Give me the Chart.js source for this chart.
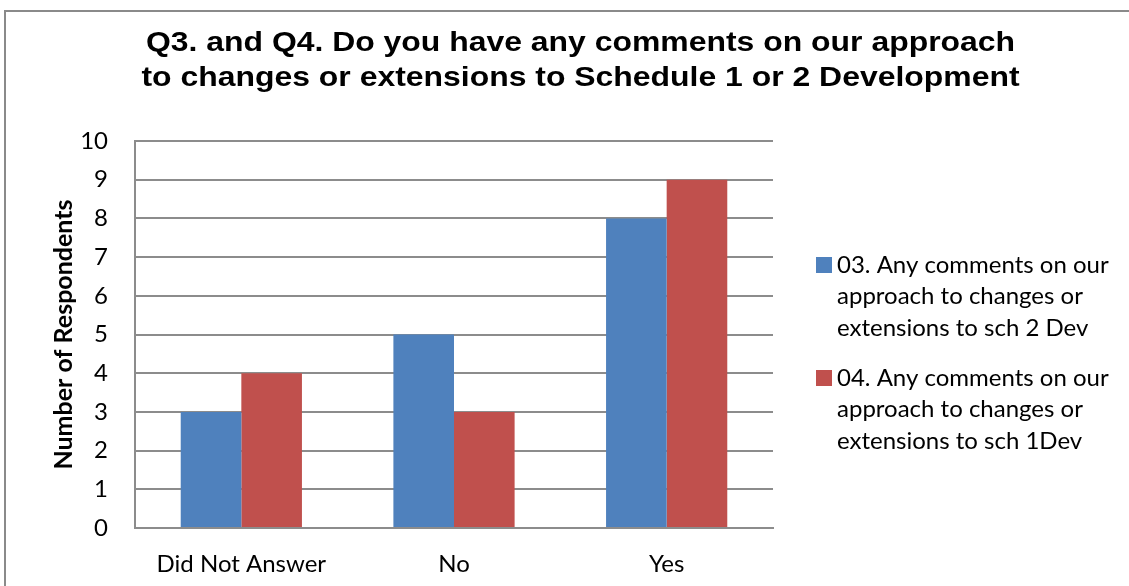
<!DOCTYPE html>
<html>
<head>
<meta charset="utf-8">
<title>Q3 and Q4 comments</title>
<script src="https://cdn.jsdelivr.net/npm/chart.js@4/dist/chart.umd.min.js"></script>
<style>
  html, body { margin: 0; padding: 0; background: #fff; overflow: hidden; }
  #wrap { position: relative; width: 1129px; height: 586px; }
  #frame {
    position: absolute; left: 4px; top: 10px; width: 1200px; height: 700px;
    border: 2px solid #8a8a8a; box-sizing: border-box;
  }
  canvas { position: absolute; left: 0; top: 0; }
</style>
</head>
<body>
<div id="wrap">
  <div id="frame"></div>
  <canvas id="chart" width="1129" height="586"></canvas>
</div>
<script>
const categories = ['Did Not Answer', 'No', 'Yes'];
const q3Values = [3, 5, 8];
const q4Values = [4, 3, 9];
const q3Lines = ['03. Any comments on our', 'approach to changes or', 'extensions to sch 2 Dev'];
const q4Lines = ['04. Any comments on our', 'approach to changes or', 'extensions to sch 1Dev'];
const yTicks = [0, 1, 2, 3, 4, 5, 6, 7, 8, 9, 10];
const titleLines = [
  'Q3. and Q4. Do you have any comments on our approach',
  'to changes or extensions to Schedule 1 or 2 Development'
];

const bodyFont = 'Lato';
const gridColor = '#8c8c8c';

// legend on the right, added as its own layout box so the title stays centred
const sideLegend = {
  id: 'sideLegend',
  beforeInit(chart) {
    const box = {
      position: 'right',
      weight: 0,
      fullSize: false,
      options: {},
      left: 0, top: 0, right: 0, bottom: 0, width: 0, height: 0,
      isHorizontal() { return false; },
      update(maxWidth, maxHeight) {
        this.width = 356;
        this.height = maxHeight;
      },
      draw() {
        const ctx = chart.ctx;
        ctx.save();
        ctx.font = '24px ' + bodyFont;
        ctx.textBaseline = 'middle';
        let y = 265;
        chart.data.datasets.forEach(ds => {
          ctx.fillStyle = ds.backgroundColor;
          ctx.fillRect(this.left + 43, y - 8, 16, 16);
          ctx.fillStyle = '#000';
          ds.lines.forEach((line, i) => {
            ctx.fillText(line, this.left + 64, y + i * 31.5);
          });
          y += 113;
        });
        ctx.restore();
      }
    };
    Chart.layouts.addBox(chart, box);
  },
  // widen the title glyphs a bit, stretching about its own centre
  afterInit(chart) {
    const block = chart.titleBlock;
    if (!block) return;
    const draw = block.draw.bind(block);
    block.draw = function(area) {
      const ctx = chart.ctx;
      const cx = (block.left + block.right) / 2;
      ctx.save();
      ctx.translate(cx, 0);
      ctx.scale(1.14, 1);
      ctx.translate(-cx, 0);
      draw(area);
      ctx.restore();
    };
  }
};

new Chart(document.getElementById('chart'), {
  type: 'bar',
  data: {
    labels: categories,
    datasets: [{
      label: q3Lines.join(' '),
      lines: q3Lines,
      data: q3Values,
      backgroundColor: '#4f81bd',
      categoryPercentage: 0.57,
      barPercentage: 1.0
    }, {
      label: q4Lines.join(' '),
      lines: q4Lines,
      data: q4Values,
      backgroundColor: '#c0504d',
      categoryPercentage: 0.57,
      barPercentage: 1.0
    }]
  },
  options: {
    responsive: false,
    animation: false,
    devicePixelRatio: 1,
    layout: { padding: { left: 32, right: 0, top: 0, bottom: 0 } },
    plugins: {
      legend: { display: false },
      tooltip: { enabled: false },
      title: {
        display: true,
        text: titleLines,
        color: '#000',
        font: { family: 'Liberation Sans', size: 28, weight: 'bold', lineHeight: 1.25 },
        padding: { top: 25.5, bottom: 45.5 }
      }
    },
    scales: {
      x: {
        grid: { display: false, drawTicks: false },
        border: { display: true, color: gridColor, width: 2 },
        ticks: { color: '#000', padding: 22, font: { family: bodyFont, size: 24 } },
        afterFit(scale) { scale.height = 58; }
      },
      y: {
        min: 0,
        max: 10,
        afterBuildTicks(scale) { scale.ticks = yTicks.map(v => ({ value: v })); },
        grid: { color: gridColor, lineWidth: 2, drawTicks: false },
        border: { display: true, color: gridColor, width: 2 },
        ticks: { color: '#000', padding: 27, font: { family: bodyFont, size: 24 } },
        title: {
          display: true,
          text: 'Number of Respondents',
          color: '#000',
          font: { family: bodyFont, size: 25, weight: 'bold' },
          padding: { top: 17, bottom: 0 }
        },
        afterFit(scale) { scale.width = 103; }
      }
    }
  },
  plugins: [sideLegend]
});
</script>
</body>
</html>
